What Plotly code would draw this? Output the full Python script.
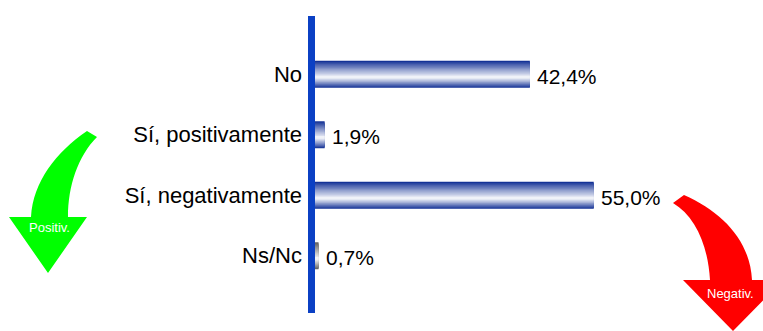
import plotly.graph_objects as go

categories = ["No", "Sí, positivamente", "Sí, negativamente", "Ns/Nc"]
values = [42.4, 1.9, 55.0, 0.7]
bar_colors = [(20, 50, 150), (20, 50, 150), (20, 50, 150), (95, 95, 95)]

W, H = 763, 331
L, R, T, B = 315, 0, 44, 45
PW, PH = W - L - R, H - T - B
XSCALE = 5.068  # px per percent


def pp(x, y):
    # pixel -> paper coordinates
    return (x - L) / PW, (T + PH - y) / PH


def path(cmds):
    out = []
    for c in cmds:
        if isinstance(c, str):
            out.append(c)
        else:
            x, y = pp(*c)
            out.append(f"{x:.5f},{y:.5f}")
    return " ".join(out)


def lerp(c, t):
    return "rgb(%d,%d,%d)" % tuple(round(a + (255 - a) * t) for a in c)


fig = go.Figure()

# gradient bars: stacked layers, narrowing toward a light band
BW = 0.446
peak = 0.62
n = 14
for i in range(n):
    t = i / n
    f_top = t * peak
    f_bot = 1 - t * (1 - peak)
    fig.add_trace(go.Bar(
        x=values, y=categories, orientation="h",
        width=(f_bot - f_top) * BW, offset=-BW / 2 + f_top * BW,
        marker=dict(color=[lerp(c, t ** 0.9) for c in bar_colors], line=dict(width=0)),
        showlegend=False, hoverinfo="skip",
    ))

# value labels
for cat, v in zip(categories, values):
    fig.add_annotation(x=v, y=cat, xref="x", yref="y", text=f"{v:.1f}%".replace(".", ","),
                       showarrow=False, xanchor="left", xshift=5, yshift=-2,
                       font=dict(size=21, color="black"))

# axis line
ax0, ay0 = pp(308, 313)
ax1, ay1 = pp(315, 16)
fig.add_shape(type="rect", xref="paper", yref="paper", x0=ax0, x1=ax1, y0=ay0, y1=ay1,
              fillcolor="#0b40c4", line=dict(width=0))

# green arrow
green = path(["M", (87, 131), "C", (56, 152), (33, 182), (31, 217), "L", (9, 217), "L", (48, 273),
              "L", (87, 217), "L", (68, 217), "C", (68, 186), (78, 156), (97, 137), "Z"])
fig.add_shape(type="path", xref="paper", yref="paper", path=green,
              fillcolor="#00ff00", line=dict(width=0))
# red arrow
red = path(["M", (684, 195), "C", (722, 212), (750, 240), (752, 280), "L", (783, 280), "L", (733, 331),
            "L", (683, 280), "L", (710, 280), "C", (708, 245), (695, 216), (673, 203), "Z"])
fig.add_shape(type="path", xref="paper", yref="paper", path=red,
              fillcolor="#ff0000", line=dict(width=0))

gx, gy = pp(49, 227)
fig.add_annotation(x=gx, y=gy, xref="paper", yref="paper", text="Positiv.", showarrow=False,
                   xanchor="center", yanchor="middle", font=dict(size=13, color="white"))
rx, ry = pp(730, 293)
fig.add_annotation(x=rx, y=ry, xref="paper", yref="paper", text="Negativ.", showarrow=False,
                   xanchor="center", yanchor="middle", font=dict(size=13, color="white"))

fig.update_layout(
    width=W, height=H, margin=dict(l=L, r=R, t=T, b=B),
    paper_bgcolor="white", plot_bgcolor="white",
    barmode="overlay",
    font=dict(family="Liberation Sans, Arial, sans-serif", color="black"),
    xaxis=dict(range=[0, PW / XSCALE], visible=False, fixedrange=True),
    yaxis=dict(type="category", categoryorder="array", categoryarray=categories,
               autorange="reversed", showgrid=False, zeroline=False, showline=False,
               ticks="", ticklabelstandoff=12, tickfont=dict(size=22, color="black")),
)

fig.write_html("out.html", config={"displayModeBar": False},
               post_script="document.body.style.margin='0';")
